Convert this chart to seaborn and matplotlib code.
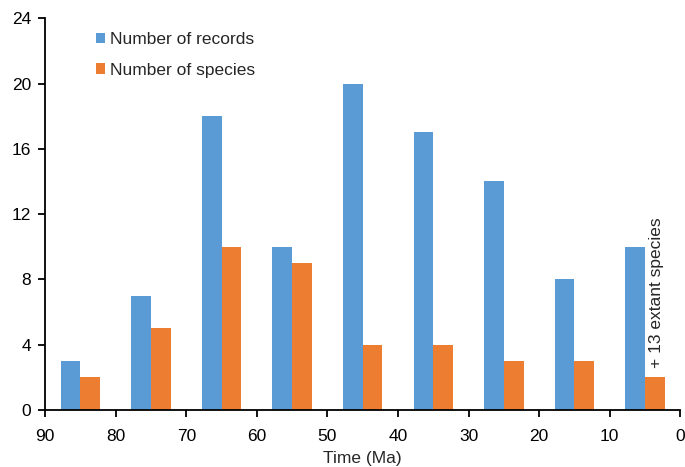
import matplotlib
matplotlib.use('Agg')
import matplotlib.pyplot as plt
import seaborn as sns
import pandas as pd

# data
time_ma = [85, 75, 65, 55, 45, 35, 25, 15, 5]
n_records = [3, 7, 18, 10, 20, 17, 14, 8, 10]
n_species = [2, 5, 10, 9, 4, 4, 3, 3, 2]
x_ticks = [90, 80, 70, 60, 50, 40, 30, 20, 10, 0]
y_ticks = [0, 4, 8, 12, 16, 20, 24]
note = '+ 13 extant species'

REC = 'Number of records'
SPE = 'Number of species'

df = pd.concat([
    pd.DataFrame({'time': time_ma, 'count': n_records, 'series': REC}),
    pd.DataFrame({'time': time_ma, 'count': n_species, 'series': SPE}),
])

sns.set_style('ticks')
plt.rcParams['font.family'] = ['Liberation Sans', 'DejaVu Sans']
FS = 12.5

fig = plt.figure(figsize=(6.85, 4.67), dpi=100)
ax = fig.add_axes([0.066, 0.122, 0.927, 0.839])

# axis is inverted, so species goes first in data order to land on the right
sns.barplot(data=df, x='time', y='count', hue='series',
            hue_order=[SPE, REC], palette={REC: '#5B9BD5', SPE: '#ED7D31'},
            native_scale=True, width=0.56, gap=0, errorbar=None,
            saturation=1, linewidth=0, ax=ax)

ax.set_xlim(90, 0)
ax.set_ylim(0, 24)
ax.set_xticks(x_ticks)
ax.set_yticks(y_ticks)
ax.set_xlabel('Time (Ma)', fontsize=FS, labelpad=5)
ax.set_ylabel('')
sns.despine(ax=ax)
for side in ['left', 'bottom']:
    ax.spines[side].set_color('black')
    ax.spines[side].set_linewidth(1.3)
ax.tick_params(axis='both', direction='out', length=5, width=1.3,
               colors='black', labelsize=FS, pad=5)
ax.tick_params(axis='x', pad=9)

# last bin also has living species
ax.text(3.4, 2.6, note, rotation=90, ha='center', va='bottom', fontsize=FS)

handles, labels = ax.get_legend_handles_labels()
ax.legend(handles[::-1], labels[::-1], loc='upper left',
          bbox_to_anchor=(0.055, 1.005), frameon=False, fontsize=FS,
          handlelength=0.55, handleheight=0.55, handletextpad=0.25,
          labelspacing=0.9)

fig.savefig('out.png', dpi=100)
